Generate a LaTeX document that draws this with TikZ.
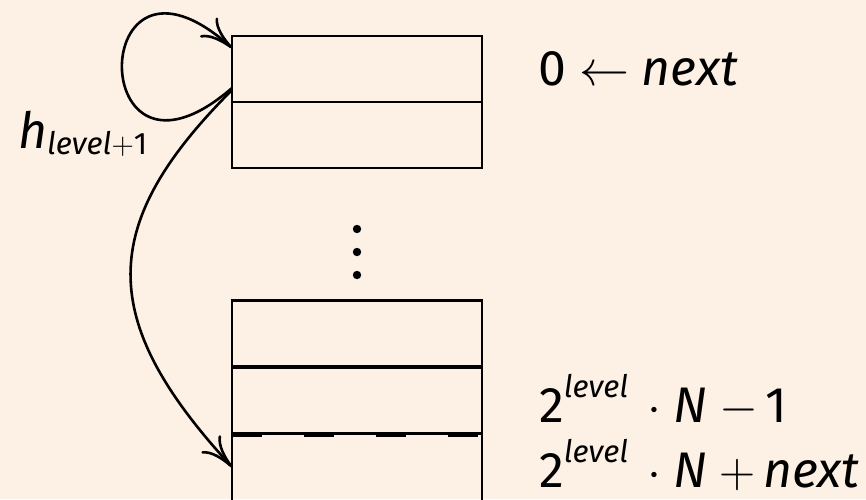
\RequirePackage{fix-cm}
\documentclass[tikz,border=0pt]{standalone}
\usepackage{fontspec}
\setmainfont{Fira Sans}
\usetikzlibrary{arrows.meta}
\definecolor{bg}{RGB}{253,240,228}
\newcommand{\mainsize}{\fontsize{50}{60}\selectfont}
\newcommand{\scr}[1]{{\fontsize{31}{37}\selectfont #1}}
\begin{document}
\begin{tikzpicture}[x=1pt,y=-1pt,
  cell/.style={draw, line width=2.8pt, minimum width=250pt, minimum height=66pt, inner sep=0pt, outer sep=0pt},
  conn/.style={line width=2.6pt, -{To[length=32pt,width=26pt,line width=2.6pt]}},
  lbl/.style={anchor=base west, inner sep=0pt, outer sep=0pt, font=\mainsize}]
\fill[bg] (0,0) rectangle (866,499);
\useasboundingbox (0,0) rectangle (866,499);
% cells
\node[cell] (c1) at (357,69) {};
\node[cell] (c2) at (357,135) {};
\node[cell] (c3) at (357,333.5) {};
\node[cell] (c4) at (357,400.5) {};
\node[cell, minimum height=72pt] (c5) at (357,470) {};
% dashed overlay on c4/c5 border
\draw[line width=5pt, dash pattern=on 30pt off 42pt] (c5.north west) -- (c5.north east);
% vertical dots
\fill (357,229) circle (4.2pt);
\fill (357,252) circle (4.2pt);
\fill (357,275) circle (4.2pt);
% connector anchors
\coordinate (ls) at ([yshift=-19pt]c1.west);
\coordinate (le) at ([yshift=21pt]c1.west);
\coordinate (bs) at ([yshift=-21pt]c1.west);
\coordinate (be) at ([yshift=3pt]c5.west);
\draw[conn] (ls) .. controls +(-147,127) and +(-146,-130) .. (le);
\draw[conn] (bs) .. controls +(-135,135) and +(-135,-147) .. (be);
% labels
\node[lbl] (h) at (18,148) {\textit{h}\raisebox{-6pt}{\scr{\textit{level}$+$1}}};
\node[lbl] (t0) at (538,85) {0\hspace{14pt}$\leftarrow$\hspace{12pt}\textit{next}};
\node[lbl] (t1) at (539,422) {2\raisebox{25pt}{\scr{\textit{level}}}\hspace{19pt}$\cdot$\hspace{12pt}\textit{N}\hspace{12pt}$-$\hspace{8pt}1};
\node[lbl] (t2) at (539,487) {2\raisebox{25pt}{\scr{\textit{level}}}\hspace{19pt}$\cdot$\hspace{12pt}\textit{N}\hspace{12pt}$+$\hspace{8pt}\textit{next}};
\end{tikzpicture}
\end{document}
